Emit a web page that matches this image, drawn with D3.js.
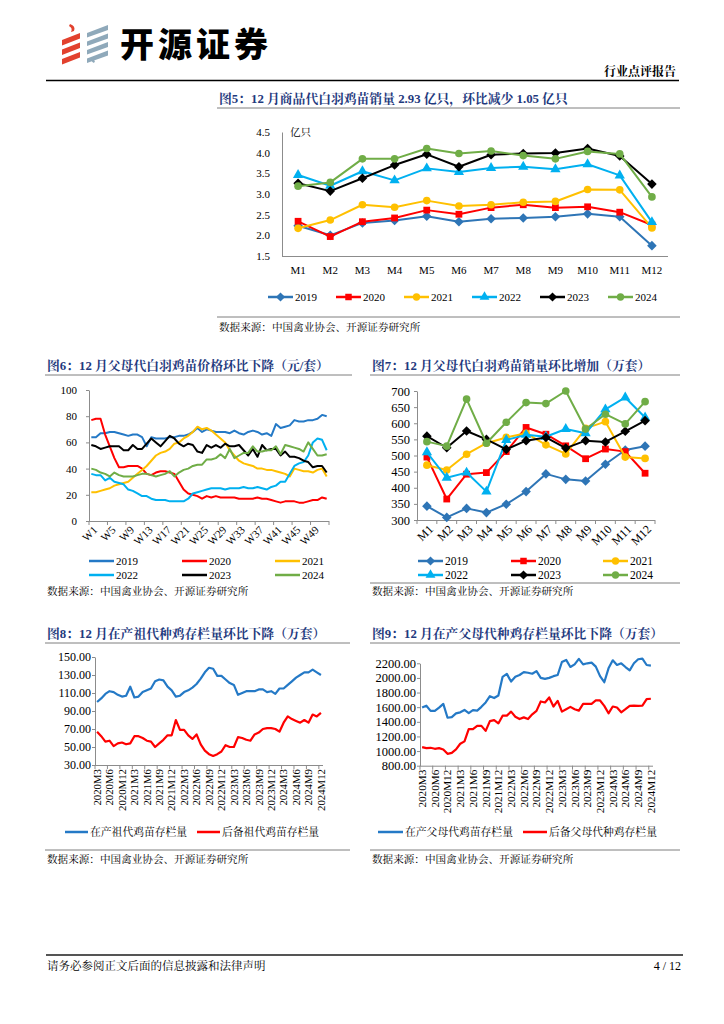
<!DOCTYPE html>
<html>
<head>
<meta charset="utf-8">
<script src="https://cdn.jsdelivr.net/npm/d3@7"></script>
<style>
  body { margin: 0; background: #fff; }
</style>
</head>
<body>
<div id="page"></div>
<script>
// ---- data ----
var months12 = ["M1","M2","M3","M4","M5","M6","M7","M8","M9","M10","M11","M12"];
var years = ["2019","2020","2021","2022","2023","2024"];
var yearColors = ["#2E75B6","#FF0000","#FFC000","#00B0F0","#000000","#70AD47"];
var yearMarkers = ["diamond","square","circle","triangle","diamond","circle"];

// fig 5: commercial chicks sales, 亿只
var sales2019 = [2.23,2.00,2.30,2.36,2.46,2.33,2.40,2.42,2.45,2.52,2.45,1.75];
var sales2020 = [2.34,1.97,2.33,2.42,2.61,2.51,2.67,2.74,2.67,2.69,2.56,2.25];
var sales2021 = [2.17,2.37,2.74,2.68,2.84,2.71,2.74,2.80,2.82,3.11,3.10,2.18];
var sales2022 = [3.46,3.20,3.55,3.33,3.62,3.53,3.63,3.66,3.60,3.72,3.45,2.32];
var sales2023 = [3.26,3.07,3.38,3.70,3.96,3.66,3.95,3.98,3.99,4.10,3.92,3.24];
var sales2024 = [3.19,3.28,3.85,3.85,4.10,3.98,4.04,3.93,3.85,4.03,3.97,2.93];

// fig 6: parent stock chick price, 元/套, weekly
var price2019 = [64,64,67,67,68,68,67,66,65,66,66,64,57,64,63,63,63,64,64,65,65,66,68,71,68,70,69,68,68,68,67,69,67,66,68,69,68,66,67,65,74,71,72,73,77,76,76,77,77,78,81,80];
var price2020 = [77,78,78,66,57,48,41,41,42,42,42,40,36,35,37,38,38,37,36,30,24,21,20,19,17,19,18,19,18,18,18,18,17,17,17,17,18,17,17,16,15,14,15,15,15,14,14,15,16,16,18,17];
var price2021 = [22,22,23,24,25,27,28,29,30,33,36,39,42,46,50,52,53,55,59,60,63,65,68,72,70,71,69,66,63,60,54,50,46,44,43,42,40,40,39,39,38,37,36,34,40,39,38,38,37,39,40,34];
var price2022 = [36,35,35,31,33,30,29,28,24,23,21,19,19,17,16,16,16,15,15,15,15,17,21,22,23,24,25,25,25,24,25,25,25,26,25,25,26,25,24,26,27,30,30,36,42,44,45,50,60,63,62,54];
var price2023 = [58,57,55,56,57,57,57,54,54,58,55,55,59,63,60,57,61,65,63,59,57,59,58,53,52,58,56,58,56,59,57,57,58,54,50,55,49,58,54,55,55,50,53,49,49,48,46,45,41,42,42,37];
var price2024 = [40,39,37,36,34,37,35,34,34,34,35,36,36,35,34,35,36,38,34,37,39,40,42,43,43,47,47,48,51,48,55,48,50,52,52,57,53,53,54,54,57,51,58,57,56,55,53,60,55,50,50,51];

// fig 7: parent stock chick sales, 万套
var ps2019 = [343,308,336,323,349,388,443,426,421,473,517,529];
var ps2020 = [495,365,442,447,512,587,566,530,490,520,512,445];
var ps2021 = [470,455,504,538,556,569,533,505,584,605,495,491];
var ps2022 = [510,431,447,388,548,564,558,582,569,643,680,618];
var ps2023 = [560,524,576,550,519,546,556,523,546,542,575,608];
var ps2024 = [543,529,675,538,603,664,661,700,582,628,598,667];

// fig 8 / fig 9: monthly stock, 万套
var stockMonths = ["2020M3","2020M4","2020M5","2020M6","2020M8","2020M10","2020M12"];
[2021, 2022, 2023, 2024].forEach(function (yr) {
  for (var m = 1; m <= 12; m++) stockMonths.push(yr + "M" + m);
});
var stockLabels = ["2020M3","2020M6","2020M12","2021M3","2021M6","2021M9","2021M12","2022M3","2022M6","2022M9","2022M12","2023M3","2023M6","2023M9","2023M12","2024M3","2024M6","2024M9","2024M12"];

var gpProducing = [100,104,109,112,111,108,106,107,117,105,106,111,113,115,123,125,124,117,113,106,107,111,113,116,120,126,133,138,137,129,129,125,121,119,108,110,112,112,112,114,114,111,112,109,115,115,119,123,127,130,133,133,136,133,130];
var gpReserve = [67,62,56,57,51,54,55,53,54,62,62,60,57,56,50,54,58,63,63,80,69,69,63,59,64,53,46,42,40,42,45,52,50,50,61,60,58,57,64,66,70,71,71,70,67,77,84,81,79,77,80,77,86,84,88];
var ppProducing = [1595,1620,1550,1550,1595,1645,1456,1465,1516,1530,1562,1520,1560,1553,1605,1665,1750,1725,1760,2015,2055,1950,2015,2040,2080,2071,2057,2094,2001,1987,2001,2024,2040,2218,2246,2150,2186,2260,2186,2200,2209,2154,2024,1941,2131,2241,2177,2200,2149,2103,2200,2255,2265,2177,2168];
var ppReserve = [1054,1040,1045,1031,1040,1022,962,976,1022,1100,1133,1299,1299,1345,1345,1276,1410,1424,1378,1484,1484,1539,1470,1438,1461,1438,1502,1549,1678,1664,1733,1609,1687,1539,1572,1604,1572,1553,1646,1646,1646,1692,1692,1618,1516,1609,1595,1530,1572,1618,1622,1618,1622,1710,1715];

// ---- page ----
var SERIF = '"Liberation Serif","Times New Roman","Noto Serif CJK SC","Noto Sans CJK SC",serif';
var CJK = '"Noto Serif CJK SC","Noto Sans CJK SC",serif';
var NAVY = "#1F3A7E";
var AXIS = "#8c8c8c";

var svg = d3.select("#page").append("svg")
  .attr("width", 724).attr("height", 1024)
  .style("display", "block");
svg.append("rect").attr("width", 724).attr("height", 1024).attr("fill", "#fff");

// header logo
var logo = svg.append("g");
[0, 1, 2].forEach(function (k) {
  var o = k * 9.5;
  logo.append("path")
    .attr("d", `M62,${40 + o} L80,${33 + o} L80,${38.5 + o} L62,${45.5 + o} Z`)
    .attr("fill", "#E2412E");
});
logo.append("path").attr("d", "M70,24 Q76,26 74,31 L71,32 Q73,28 69,26 Z").attr("fill", "#E2412E");
[0, 1, 2, 3].forEach(function (k) {
  var o = k * 8.5;
  logo.append("path")
    .attr("d", `M87,${33 + o} L108,${25 + o} L108,${30 + o} L87,${37.5 + o} Z`)
    .attr("fill", "#8FA9BA");
});
logo.append("path").attr("d", "M92,57 Q90,61 94,63 L95,61 Q93,60 94,57 Z").attr("fill", "#8FA9BA");
svg.append("text").attr("x", 120).attr("y", 57)
  .attr("font-family", '"Noto Sans CJK SC",sans-serif').attr("font-weight", 900)
  .attr("font-size", 34).attr("letter-spacing", 4).text("开源证券");
svg.append("text").attr("x", 676).attr("y", 76).attr("text-anchor", "end")
  .attr("font-family", CJK).attr("font-weight", 700).attr("font-size", 12)
  .text("行业点评报告");
svg.append("line").attr("x1", 46).attr("x2", 679).attr("y1", 80.5).attr("y2", 80.5)
  .attr("stroke", "#000").attr("stroke-width", 1.5);

// footer
svg.append("line").attr("x1", 46).attr("x2", 683).attr("y1", 955).attr("y2", 955)
  .attr("stroke", "#555").attr("stroke-width", 2);
svg.append("text").attr("x", 47).attr("y", 970).attr("font-family", CJK).attr("font-size", 11.5)
  .text("请务必参阅正文后面的信息披露和法律声明");
svg.append("text").attr("x", 681).attr("y", 970).attr("text-anchor", "end")
  .attr("font-family", SERIF).attr("font-size", 12).text("4 / 12");

function frame(title, x1, x2, titleY, srcY, srcLineY) {
  svg.append("text").attr("x", x1 + 2).attr("y", titleY)
    .attr("font-family", SERIF).attr("font-weight", 700).attr("font-size", 12.8)
    .attr("fill", NAVY).text(title);
  svg.append("line").attr("x1", x1).attr("x2", x2).attr("y1", titleY + 5.5).attr("y2", titleY + 5.5)
    .attr("stroke", "#7f7f7f").attr("stroke-width", 1);
  if (srcLineY) {
    svg.append("line").attr("x1", x1).attr("x2", x2).attr("y1", srcLineY).attr("y2", srcLineY)
      .attr("stroke", "#7f7f7f").attr("stroke-width", 1);
  }
  svg.append("text").attr("x", x1 + 2).attr("y", srcY)
    .attr("font-family", CJK).attr("font-size", 10.6)
    .text("数据来源：中国禽业协会、开源证券研究所");
}

// marker shapes; diamond drawn as a square turned 45°
function symbolPath(kind, size) {
  if (kind === "diamond") {
    var r = Math.sqrt(size / 2);
    return `M0,${-r}L${r},0L0,${r}L${-r},0Z`;
  }
  var t = { square: d3.symbolSquare, circle: d3.symbolCircle, triangle: d3.symbolTriangle }[kind];
  return d3.symbol().type(t).size(size)();
}

function lineChart(cfg) {
  var g = svg.append("g");
  var x = d3.scaleBand().domain(cfg.cats).range([cfg.left, cfg.right]);
  var y = d3.scaleLinear().domain(cfg.domain).range([cfg.bottom, cfg.top]);
  var bw = x.bandwidth();
  var cx = function (c) { return x(c) + bw / 2; };

  var yAxis = d3.axisLeft(y).tickValues(cfg.yTicks).tickFormat(d3.format(cfg.yFmt))
    .tickSize(cfg.yTickSize).tickSizeOuter(0).tickPadding(cfg.yPad);
  var yg = g.append("g").attr("transform", `translate(${cfg.left},0)`).call(yAxis)
    .attr("font-family", SERIF).attr("font-size", cfg.yFont);
  yg.selectAll("path, line").attr("stroke", AXIS);
  yg.selectAll("text").attr("fill", "#000");

  g.append("line").attr("x1", cfg.left).attr("x2", cfg.right)
    .attr("y1", cfg.bottom + 0.5).attr("y2", cfg.bottom + 0.5).attr("stroke", AXIS);
  if (cfg.xTickEvery) {
    var bounds = d3.range(0, cfg.cats.length + 1, cfg.xTickEvery);
    g.selectAll(null).data(bounds).enter().append("line")
      .attr("x1", function (i) { return cfg.left + i * bw; })
      .attr("x2", function (i) { return cfg.left + i * bw; })
      .attr("y1", cfg.bottom).attr("y2", cfg.bottom + 4).attr("stroke", AXIS);
  }

  var labs = g.selectAll(null).data(cfg.xLabels).enter().append("text")
    .attr("font-family", SERIF).attr("font-size", cfg.xFont).text(function (d) { return d; });
  if (cfg.xRotate === 0) {
    labs.attr("x", cx).attr("y", cfg.bottom + 18).attr("text-anchor", "middle");
  } else if (cfg.xRotate === -45) {
    labs.attr("text-anchor", "end")
      .attr("transform", function (d) { return `translate(${cx(d) + 4},${cfg.bottom + 7}) rotate(-45)`; })
      .attr("dy", "0.35em");
  } else {
    labs.attr("text-anchor", "end")
      .attr("transform", function (d) { return `translate(${cx(d)},${cfg.bottom + 4}) rotate(-90)`; })
      .attr("dy", "0.35em");
  }

  var line = d3.line()
    .x(function (d, i) { return cx(cfg.cats[i]); })
    .y(function (d) { return y(d); });
  cfg.series.forEach(function (s) {
    g.append("path").attr("d", line(s.values)).attr("fill", "none")
      .attr("stroke", s.color).attr("stroke-width", cfg.lineWidth).attr("stroke-linejoin", "round");
    if (s.marker) {
      g.selectAll(null).data(s.values).enter().append("path")
        .attr("d", symbolPath(s.marker, cfg.markerSize))
        .attr("transform", function (d, i) { return `translate(${cx(cfg.cats[i])},${y(d)})`; })
        .attr("fill", s.color);
    }
  });
  return g;
}

function legend(items, withMarker, markerSize, font) {
  items.forEach(function (it) {
    svg.append("line").attr("x1", it.x).attr("x2", it.x + it.len).attr("y1", it.y).attr("y2", it.y)
      .attr("stroke", it.color).attr("stroke-width", 2.5);
    if (withMarker) {
      svg.append("path").attr("d", symbolPath(it.marker, markerSize))
        .attr("transform", `translate(${it.x + it.len / 2},${it.y})`).attr("fill", it.color);
    }
    svg.append("text").attr("x", it.x + it.len + 2).attr("y", it.y + 4)
      .attr("font-family", it.cjk ? CJK : SERIF).attr("font-size", font).text(it.label);
  });
}

// ---- fig 5 ----
frame("图5：12 月商品代白羽鸡苗销量 2.93 亿只，环比减少 1.05 亿只", 217, 680, 102.5, 331, 317);
var sales = [sales2019, sales2020, sales2021, sales2022, sales2023, sales2024];
lineChart({
  cats: months12, left: 282, right: 668, top: 132, bottom: 256, domain: [1.5, 4.5],
  yTicks: [1.5, 2, 2.5, 3, 3.5, 4, 4.5], yFmt: ".1f", yTickSize: 0, yPad: 12, yFont: 11,
  xTickEvery: 0, xLabels: months12, xRotate: 0, xFont: 11, lineWidth: 2, markerSize: 46,
  series: sales.map(function (v, i) { return { values: v, color: yearColors[i], marker: yearMarkers[i] }; })
});
svg.append("text").attr("x", 290).attr("y", 136).attr("font-family", CJK).attr("font-size", 10.5).text("亿只");
legend(years.map(function (yr, i) {
  return { x: 268 + i * 68, y: 297, len: 25, color: yearColors[i], marker: yearMarkers[i], label: yr };
}), true, 42, 11);

// ---- fig 6 ----
frame("图6：12 月父母代白羽鸡苗价格环比下降（元/套）", 45, 352, 369.5, 595, 0);
var weeks = d3.range(1, 53).map(function (w) { return "W" + w; });
var prices = [price2019, price2020, price2021, price2022, price2023, price2024];
var lineColors = ["#2479C6","#FF0000","#FFC000","#00B0F0","#000000","#70AD47"];
lineChart({
  cats: weeks, left: 89, right: 329, top: 390, bottom: 521, domain: [0, 100],
  yTicks: [0, 20, 40, 60, 80, 100], yFmt: "d", yTickSize: 3, yPad: 9, yFont: 11,
  xTickEvery: 4, xLabels: weeks.filter(function (w, i) { return i % 4 === 0; }), xRotate: -45, xFont: 11,
  lineWidth: 2, markerSize: 0,
  series: prices.map(function (v, i) { return { values: v, color: lineColors[i] }; })
});
legend(years.map(function (yr, i) {
  return { x: [89, 182, 275][i % 3], y: i < 3 ? 561 : 575, len: 25, color: lineColors[i], label: yr };
}), false, 0, 11);

// ---- fig 7 ----
frame("图7：12 月父母代白羽鸡苗销量环比增加（万套）", 370, 680, 369.5, 595, 583);
var psSales = [ps2019, ps2020, ps2021, ps2022, ps2023, ps2024];
lineChart({
  cats: months12, left: 417, right: 655, top: 391, bottom: 520, domain: [300, 700],
  yTicks: d3.range(300, 701, 50), yFmt: "d", yTickSize: 3, yPad: 4, yFont: 12.5,
  xTickEvery: 1, xLabels: months12, xRotate: -45, xFont: 12, lineWidth: 2, markerSize: 46,
  series: psSales.map(function (v, i) { return { values: v, color: yearColors[i], marker: yearMarkers[i] }; })
});
legend(years.map(function (yr, i) {
  return { x: [418, 511, 603][i % 3], y: i < 3 ? 561 : 575, len: 25, color: yearColors[i], marker: yearMarkers[i], label: yr };
}), true, 42, 11.5);

// ---- fig 8 ----
frame("图8：12 月在产祖代种鸡存栏量环比下降（万套）", 45, 350, 637.5, 863, 850);
lineChart({
  cats: stockMonths, left: 95, right: 323, top: 657, bottom: 765, domain: [30, 150],
  yTicks: d3.range(30, 151, 20), yFmt: ".2f", yTickSize: 3, yPad: 1, yFont: 12,
  xTickEvery: 3, xLabels: stockLabels, xRotate: -90, xFont: 10.8, lineWidth: 2.2, markerSize: 0,
  series: [{ values: gpProducing, color: "#2479C6" }, { values: gpReserve, color: "#FF0000" }]
});
legend([
  { x: 65, y: 832, len: 23, color: "#2479C6", label: "在产祖代鸡苗存栏量", cjk: true },
  { x: 197, y: 832, len: 23, color: "#FF0000", label: "后备祖代鸡苗存栏量", cjk: true }
], false, 0, 10.8);

// ---- fig 9 ----
frame("图9：12 月在产父母代种鸡存栏量环比下降（万套）", 370, 680, 637.5, 863, 850);
lineChart({
  cats: stockMonths, left: 420, right: 653, top: 663.3, bottom: 765.7, domain: [800, 2200],
  yTicks: d3.range(800, 2201, 200), yFmt: ".2f", yTickSize: 3, yPad: 1, yFont: 12.5,
  xTickEvery: 3, xLabels: stockLabels, xRotate: -90, xFont: 11.2, lineWidth: 2.2, markerSize: 0,
  series: [{ values: ppProducing, color: "#2479C6" }, { values: ppReserve, color: "#FF0000" }]
});
legend([
  { x: 378, y: 832, len: 25, color: "#2479C6", label: "在产父母代鸡苗存栏量", cjk: true },
  { x: 523, y: 832, len: 24, color: "#FF0000", label: "后备父母代种鸡存栏量", cjk: true }
], false, 0, 10.8);
</script>
</body>
</html>
